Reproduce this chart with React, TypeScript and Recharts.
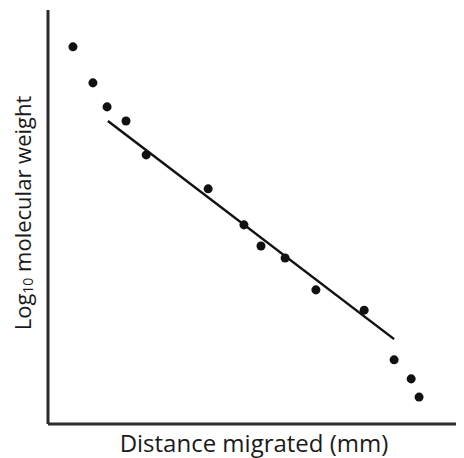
import React from 'react';
import {
  ScatterChart,
  Scatter,
  XAxis,
  YAxis,
  ZAxis,
  ReferenceLine,
  Label,
} from 'recharts';

// distance migrated (mm) and log10 MW for each band
const distance: number[] = [6.0, 10.8, 14.2, 18.75, 23.6, 38.5, 47.1, 51.2, 57.0, 64.4, 76.0, 83.2, 87.3, 89.2];
const logMw: number[]    = [9.11, 8.24, 7.66, 7.32, 6.50, 5.68, 4.81, 4.30, 4.01, 3.24, 2.75, 1.55, 1.09, 0.65];

// best-fit line end points
const fitX: number[] = [14.4, 83.2];
const fitY: number[] = [7.32, 2.05];

const xDomain: [number, number] = [0, 100];
const yDomain: [number, number] = [0, 10];

const xLabel = 'Distance migrated (mm)';
const yLabelPre = 'Log';
const yLabelSub = '10';
const yLabelPost = ' molecular weight';

const FONT = '"Open Sans", Lato, sans-serif';
const INK = '#1a1a1a';

interface Pt {
  x: number;
  y: number;
}

export default function App(): React.JSX.Element {
  const data: Pt[] = distance.map((d, i) => ({ x: d, y: logMw[i] }));
  const segment = fitX.map((x, i) => ({ x, y: fitY[i] }));

  // body keeps its 8px margin, so the chart is 456x450
  return (
    <div style={{ width: 456, height: 450, background: '#fff' }}>
      <ScatterChart
        width={456}
        height={450}
        margin={{ top: 2, right: 0, bottom: 33, left: 39 }}
      >
        <XAxis
          type="number"
          dataKey="x"
          domain={xDomain}
          height={1}
          tick={false}
          tickLine={false}
          axisLine={{ stroke: '#2b2b2b', strokeWidth: 3 }}
        >
          <Label
            content={(props: any) => {
              const vb = props.viewBox;
              return (
                <text
                  x={vb.x + vb.width / 2 - 2}
                  y={vb.y + 28}
                  textAnchor="middle"
                  fontFamily={FONT}
                  fontSize={24}
                  fill={INK}
                >
                  {xLabel}
                </text>
              );
            }}
          />
        </XAxis>
        <YAxis
          type="number"
          dataKey="y"
          domain={yDomain}
          width={1}
          tick={false}
          tickLine={false}
          axisLine={{ stroke: '#2b2b2b', strokeWidth: 3 }}
        >
          <Label
            content={(props: any) => {
              const vb = props.viewBox;
              const cx = vb.x - 25;
              const cy = vb.y + vb.height / 2 - 4;
              return (
                <text
                  x={cx}
                  y={cy}
                  transform={`rotate(-90 ${cx} ${cy})`}
                  textAnchor="middle"
                  dominantBaseline="central"
                  fontFamily={FONT}
                  fontSize={22}
                  fill={INK}
                >
                  {yLabelPre}
                  <tspan fontSize={14} dy={5}>{yLabelSub}</tspan>
                  <tspan dy={-5}>{yLabelPost}</tspan>
                </text>
              );
            }}
          />
        </YAxis>
        <ZAxis range={[40, 40]} />
        <ReferenceLine
          segment={segment}
          stroke="#111"
          strokeWidth={2.5}
          ifOverflow="visible"
        />
        <Scatter
          data={data}
          fill="#111"
          shape="circle"
          isAnimationActive={false}
        />
      </ScatterChart>
    </div>
  );
}
